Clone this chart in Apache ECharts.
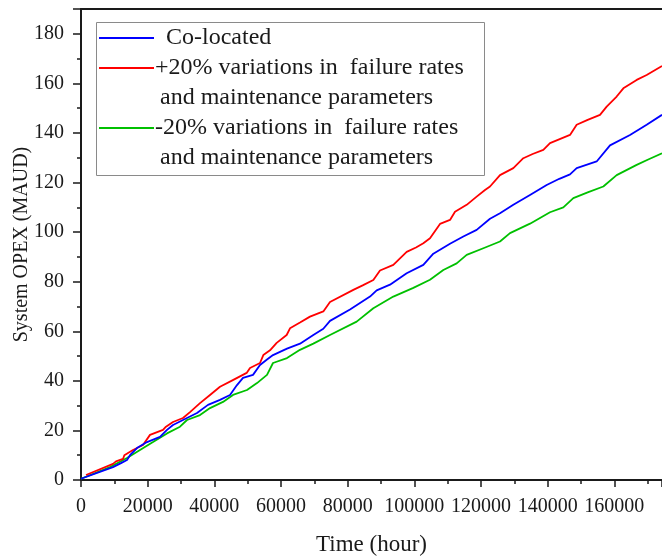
<!DOCTYPE html>
<html>
<head>
<meta charset="utf-8">
<script src="https://cdn.jsdelivr.net/npm/echarts@6/dist/echarts.min.js"></script>
<style>
  html, body { margin: 0; padding: 0; background: #fff; }
  #chart { width: 662px; height: 556px; }
</style>
</head>
<body>
<div id="chart"></div>
<script>
// Cumulative system OPEX over operating time, three scenarios.
const seriesNames = [
  'Co-located',
  '+20% variations in  failure rates\nand maintenance parameters',
  '-20% variations in  failure rates\nand maintenance parameters'
];
const seriesColors = ['#0000ff', '#ff0000', '#00c000'];

// Co-located (baseline)
const coLocatedTime = [0, 9600, 12000, 13800, 14700, 16800, 19800, 23700, 25800, 27600, 31800, 34800, 38100, 41700, 44700, 46800, 48600, 51600, 53700, 55800, 57600, 61800, 65700, 69700, 72700, 74700, 80700, 86700, 88700, 92700, 97700, 102700, 105700, 110700, 114700, 118700, 122700, 125700, 129700, 134700, 139700, 143500, 146700, 148700, 154700, 158700, 164700, 169700, 174300];
const coLocatedOpex = [0.5, 5.2, 6.8, 8.1, 10, 12.9, 15.3, 17.4, 20.2, 22.2, 25, 27, 30.3, 32.3, 34.3, 38.3, 41.2, 42.4, 46.4, 48.6, 50.4, 53, 55, 58.5, 61, 64.2, 68.8, 74, 76.5, 78.8, 83.4, 86.8, 91.3, 95.3, 98.2, 100.9, 105.4, 107.6, 111, 115, 119, 121.5, 123.3, 125.8, 128.5, 135, 139.2, 143.3, 147.3];

// +20% variation in failure rates and maintenance parameters
const plusTime = [1500, 9600, 10500, 12600, 13000, 15600, 18600, 20700, 24600, 25500, 27600, 30600, 32700, 35700, 38700, 41700, 45700, 49700, 50700, 53700, 54700, 56700, 58700, 61700, 62700, 65700, 68700, 72700, 74700, 81700, 84500, 87700, 89700, 93700, 97700, 100500, 102700, 104700, 107700, 110700, 112200, 115700, 118700, 121200, 122700, 125700, 129700, 132700, 135500, 138700, 140700, 146700, 148700, 152000, 155700, 157700, 160700, 162700, 166700, 169700, 174300];
const plusOpex = [2.0, 6.5, 7.5, 8.5, 10, 12.1, 14.1, 18.2, 20.2, 21.5, 23.4, 25, 27.4, 31, 34.3, 37.6, 40.4, 43.2, 45.2, 47.2, 50.4, 52.3, 55.3, 58.5, 61.2, 63.5, 65.9, 68, 71.8, 76.7, 78.5, 80.7, 84.5, 86.8, 92, 93.8, 95.5, 97.5, 103.3, 104.9, 108.2, 111, 114.3, 117, 118.4, 123, 125.8, 129.8, 131.5, 133.2, 135.9, 139.2, 143.3, 145.3, 147.3, 150.6, 154.7, 158, 161.4, 163.4, 167];

// -20% variation in failure rates and maintenance parameters
const minusTime = [0, 8700, 13800, 17700, 21600, 25800, 29700, 31800, 35700, 38700, 42600, 45600, 49800, 52800, 55800, 57600, 61800, 65700, 69700, 74700, 82700, 87700, 93700, 99700, 104700, 108700, 112700, 115700, 120700, 125700, 128700, 134700, 140700, 144700, 147700, 152000, 156700, 160700, 166700, 170000, 174300];
const minusOpex = [0.5, 5.2, 8.9, 12.1, 15.3, 18.8, 21.5, 24.2, 26.2, 29, 31.5, 34.3, 36.3, 39.1, 42.4, 47.2, 49.2, 52.5, 55, 58.5, 63.9, 69.3, 74, 77.5, 80.8, 84.7, 87.4, 90.8, 93.5, 96.2, 99.6, 103.4, 108, 110, 113.7, 116, 118.4, 123, 127.1, 129.2, 131.8];

const xTickStep = 20000;
const yTickStep = 20;

function pairs(t, v) { return t.map((x, i) => [x, v[i]]); }

const FONT = '"Liberation Serif", "DejaVu Serif", serif';
const chart = echarts.init(document.getElementById('chart'));

const axisLineStyle = { color: '#1a1a1a', width: 2 };

// Legend drawn as a framed block in the upper-left of the plot
const legendRows = [
  { series: 0, lines: [seriesNames[0].split('\n')[0]], lineY: 38, textX: 166 },
  { series: 1, lines: seriesNames[1].split('\n'), lineY: 68, textX: 155 },
  { series: 2, lines: seriesNames[2].split('\n'), lineY: 128, textX: 155 }
];
const legendGraphics = [{
  type: 'rect',
  shape: { x: 96.5, y: 22.5, width: 388, height: 153 },
  style: { fill: '#fff', stroke: '#8a8a8a', lineWidth: 1 },
  z: 10
}];
legendRows.forEach(row => {
  legendGraphics.push({
    type: 'line',
    shape: { x1: 99, y1: row.lineY, x2: 154, y2: row.lineY },
    style: { stroke: seriesColors[row.series], lineWidth: 1.8 },
    z: 11
  });
  row.lines.forEach((txt, k) => {
    legendGraphics.push({
      type: 'text',
      x: k === 0 ? row.textX : 160,
      y: row.lineY + k * 30,
      style: {
        text: txt, fill: '#1a1a1a', font: '24px ' + FONT,
        textVerticalAlign: 'middle', textAlign: 'left'
      },
      z: 11
    });
  });
});

chart.setOption({
  backgroundColor: '#fff',
  animation: false,
  grid: { left: 81, right: 0, top: 9, bottom: 76, containLabel: false, outerBoundsMode: 'none' },
  xAxis: [{
    type: 'value',
    min: 0, max: 174300, interval: xTickStep,
    name: 'Time (hour)', nameLocation: 'middle', nameGap: 53, nameMoveOverlap: false,
    nameTextStyle: { fontFamily: FONT, fontSize: 23, color: '#1a1a1a' },
    axisLine: { show: true, onZero: false, lineStyle: axisLineStyle },
    axisTick: { show: true, length: 7, inside: false, lineStyle: { color: '#1a1a1a', width: 1.5 } },
    minorTick: { show: true, splitNumber: 2, length: 4, lineStyle: { color: '#1a1a1a', width: 1.5 } },
    axisLabel: {
      fontFamily: FONT, fontSize: 20, color: '#1a1a1a', margin: 17, showMaxLabel: false,
      formatter: v => String(v)
    },
    splitLine: { show: false }
  }, {
    type: 'value', position: 'top',
    min: 0, max: 174300,
    axisLine: { show: true, onZero: false, lineStyle: axisLineStyle },
    axisTick: { show: false }, axisLabel: { show: false }, splitLine: { show: false }
  }],
  yAxis: {
    type: 'value',
    min: 0, max: 190, interval: yTickStep,
    name: 'System OPEX (MAUD)', nameLocation: 'middle', nameGap: 49, nameMoveOverlap: false,
    nameTextStyle: { fontFamily: FONT, fontSize: 20, color: '#1a1a1a' },
    axisLine: { show: true, onZero: false, lineStyle: axisLineStyle },
    axisTick: { show: true, length: 8, inside: false, lineStyle: { color: '#1a1a1a', width: 1.5 } },
    minorTick: { show: true, splitNumber: 2, length: 4, lineStyle: { color: '#1a1a1a', width: 1.5 } },
    axisLabel: {
      fontFamily: FONT, fontSize: 20, color: '#1a1a1a', margin: 17, showMaxLabel: false,
      formatter: v => String(v)
    },
    splitLine: { show: false }
  },
  series: [
    { name: seriesNames[0], data: pairs(coLocatedTime, coLocatedOpex) },
    { name: seriesNames[1], data: pairs(plusTime, plusOpex) },
    { name: seriesNames[2], data: pairs(minusTime, minusOpex) }
  ].map((s, i) => ({
    ...s,
    type: 'line',
    xAxisIndex: 0,
    showSymbol: false,
    symbol: 'none',
    lineStyle: { color: seriesColors[i], width: 1.8 },
    itemStyle: { color: seriesColors[i] },
    z: 3 - i
  })),
  graphic: legendGraphics
});
</script>
</body>
</html>
